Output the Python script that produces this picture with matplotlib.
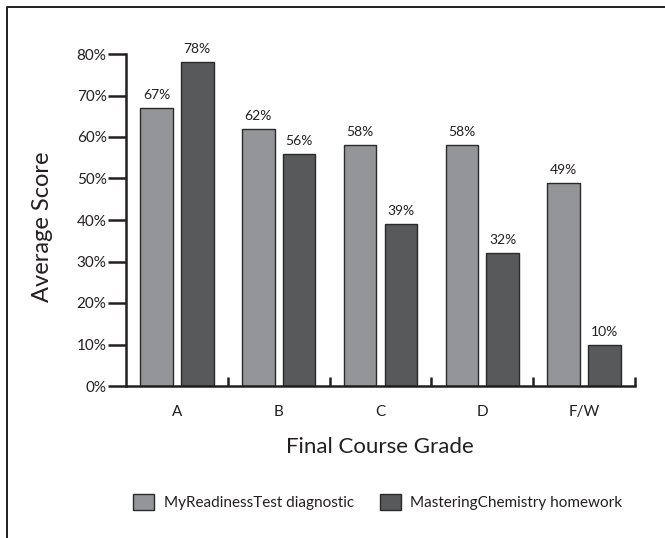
import matplotlib
matplotlib.use("Agg")
import matplotlib.pyplot as plt
from matplotlib.patches import Patch
from matplotlib.lines import Line2D
import numpy as np

categories = ["A", "B", "C", "D", "F/W"]
diagnostic = [67, 62, 58, 58, 49]
homework = [78, 56, 39, 32, 10]
series_names = ["MyReadinessTest diagnostic", "MasteringChemistry homework"]
y_ticks = [0, 10, 20, 30, 40, 50, 60, 70, 80]

plt.rcParams['font.family'] = ['Lato', 'DejaVu Sans']
TXT = '#231f20'
LIGHT = '#939598'
DARK = '#58595b'
EDGE = '#2a2a2a'

W, H = 665, 538
fig = plt.figure(figsize=(W/100, H/100), dpi=100)
ax = fig.add_axes([126/W, 1-386/H, (635-126)/W, (386-54)/H])

x = np.arange(len(categories))
bw = 0.32
off = 0.2
b1 = ax.bar(x - off, diagnostic, bw, color=LIGHT, edgecolor=EDGE, linewidth=1.0)
b2 = ax.bar(x + off, homework, bw, color=DARK, edgecolor=EDGE, linewidth=1.0)
for bars, vals in ((b1, diagnostic), (b2, homework)):
    for r, v in zip(bars, vals):
        ax.annotate(f"{v}%", (r.get_x() + r.get_width()/2, v), xytext=(0, 5),
                    textcoords='offset points', ha='center', va='bottom',
                    fontsize=10, color=TXT)

ax.set_xlim(-0.5, len(categories) - 0.5)
ax.set_ylim(0, 80)
for s in ('top', 'right'):
    ax.spines[s].set_visible(False)
for s in ('left', 'bottom'):
    ax.spines[s].set_linewidth(1.8)
    ax.spines[s].set_color(TXT)

ax.set_yticks(y_ticks)
ax.set_yticklabels([f"{t}%" for t in y_ticks])
ax.tick_params(axis='y', direction='out', length=13, width=1.8, color=TXT,
               labelsize=11, labelcolor=TXT, pad=1)

ax.set_xticks(x + 0.5)
ax.set_xticklabels([''] * len(categories))
ax.tick_params(axis='x', which='major', direction='in', length=6.5, width=1.8, color=TXT)
ax.set_xticks(x, minor=True)
ax.set_xticklabels(categories, minor=True)
ax.tick_params(axis='x', which='minor', length=0, labelsize=11, labelcolor=TXT, pad=14)

fig.text(43/W, 1-227/H, "Average Score", rotation=90, ha='center', va='center',
         fontsize=17, color=TXT)
fig.text(380/W, 1-447/H, "Final Course Grade", ha='center', va='center',
         fontsize=16, color=TXT)

handles = [Patch(facecolor=LIGHT, edgecolor=EDGE, linewidth=1.0),
           Patch(facecolor=DARK, edgecolor=EDGE, linewidth=1.0)]
fig.legend(handles, series_names, loc='center left', bbox_to_anchor=(133/W, 1-502/H),
           ncol=2, frameon=False, fontsize=11, handlelength=1.4, handleheight=1.2,
           handletextpad=0.6, columnspacing=1.7, borderpad=0, borderaxespad=0,
           labelcolor=TXT)

# outer frame (cropped rectangle)
fig.add_artist(Line2D([7/W, 7/W, 1.0], [0.0, 1-7/H, 1-7/H], transform=fig.transFigure,
                      color=TXT, linewidth=1.4))

fig.savefig("out.png", dpi=100)
